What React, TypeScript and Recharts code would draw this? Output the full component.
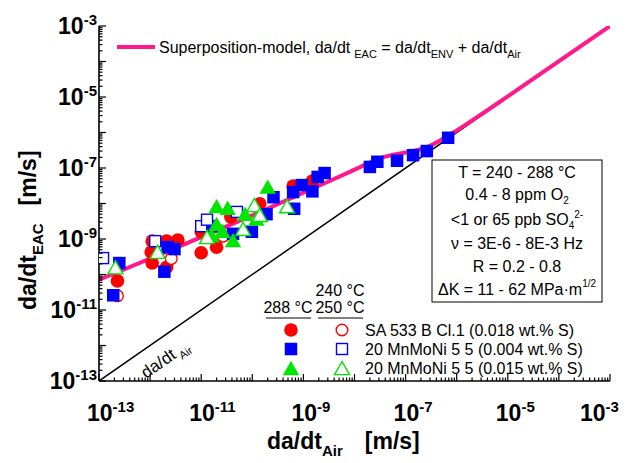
import React from 'react';
import { ComposedChart, Line, Scatter, XAxis, YAxis } from 'recharts';

const FONT = '"Liberation Sans", Arial, Helvetica, sans-serif';
const PINK = '#ff1a8c';
const RED = '#ff0000';
const BLUE = '#0000ff';
const GREEN = '#00e600';

const DOMAIN: [number, number] = [1e-13, 1e-3];
const DECADES = [-13, -12, -11, -10, -9, -8, -7, -6, -5, -4, -3];
const LABELED_DECADES = [-13, -11, -9, -7, -5, -3];
const MINOR_STEPS = [2, 3, 4, 5, 6, 7, 8, 9];

const TICKS = DECADES.flatMap((e) => {
  const base = Number(`1e${e}`);
  return e === -3 ? [base] : [base, ...MINOR_STEPS.map((m) => Number(`${m}e${e}`))];
});

// [da/dt Air, da/dt EAC] in m/s
const SA533_288 = [
  [2.3e-13, 6.6e-11], [1.1e-12, 8.7e-10], [1.05e-12, 4.3e-10], [1.1e-12, 2.1e-10],
  [2.1e-12, 8.7e-10], [3.5e-12, 9.3e-10], [2.1e-12, 1.6e-10], [1.0e-11, 1.6e-9],
  [1.0e-11, 4.1e-10], [2.0e-11, 5.9e-10], [3.8e-11, 4.2e-9], [1.4e-10, 9.8e-9],
  [6.3e-10, 3.1e-8], [1.5e-9, 4.3e-8],
];
const SA533_250 = [[2.3e-13, 2.5e-11], [2.6e-12, 2.8e-10], [2.7e-11, 1.2e-9]];

const MN004_288 = [
  [2.5e-13, 2.1e-10], [1.9e-13, 2.6e-11], [2.2e-12, 5.9e-10], [3.0e-12, 5.2e-10],
  [1.9e-12, 1.2e-10], [1.6e-11, 2.3e-9], [4.2e-11, 1.4e-9], [9.8e-11, 1.6e-9],
  [1.9e-10, 5.0e-9], [2.6e-10, 1.5e-8], [6.3e-10, 2.1e-8], [6.6e-10, 7.1e-9],
  [9.3e-10, 3.3e-8], [1.5e-9, 2.2e-8], [1.9e-9, 5.6e-8], [2.6e-9, 7.2e-8],
  [2.0e-8, 1.07e-7], [2.8e-8, 1.5e-7], [6.8e-8, 1.6e-7], [1.4e-7, 2.3e-7],
  [2.6e-7, 3.0e-7], [6.8e-7, 7.1e-7],
];
const MN004_250 = [
  [1.2e-13, 2.9e-10], [1.26e-12, 8.7e-10], [1.0e-11, 2.3e-9], [1.3e-11, 3.5e-9], [5.0e-11, 5.8e-9],
];

const MN015_288 = [
  [2.0e-11, 7.9e-9], [3.3e-11, 7.1e-9], [2.0e-10, 2.8e-8], [2.0e-11, 2.5e-9],
  [1.6e-11, 1.2e-9], [4.2e-11, 8.7e-10], [2.6e-11, 1.6e-9], [1.2e-10, 3.5e-9],
  [7.2e-11, 4.8e-9],
];
const MN015_250 = [
  [2.1e-13, 1.5e-10], [1.4e-12, 4.1e-10], [1.3e-11, 1.07e-9], [6.6e-11, 1.8e-9],
  [1.1e-10, 8.5e-9], [1.4e-10, 4.5e-9], [4.8e-10, 7.9e-9],
];

const MODEL = [
  [1e-13, 7.1e-11], [3.5e-10, 1.02e-8], [8.1e-9, 7.8e-8], [3.2e-8, 1.9e-7],
  [3.0e-7, 4.2e-7], [8.5e-7, 9.8e-7], [2.5e-6, 2.7e-6], [1e-5, 1.04e-5], [1e-3, 1e-3],
];
const AIR_LINE = [[1e-13, 1e-13], [1e-3, 1e-3]];

const pts = (arr: number[][]) => arr.map(([x, y]) => ({ x, y }));

function Marker(props: any) {
  const { cx, cy, kind, color, open } = props;
  if (cx == null || cy == null) return null;
  const fill = open ? '#fff' : color;
  const sw = open ? 1.4 : 0;
  if (kind === 'circle') {
    return <circle cx={cx} cy={cy} r={open ? 5.8 : 6.8} fill={fill} stroke={color} strokeWidth={sw} />;
  }
  if (kind === 'square') {
    const s = open ? 11 : 12.5;
    return <rect x={cx - s / 2} y={cy - s / 2} width={s} height={s} fill={fill} stroke={color} strokeWidth={sw} />;
  }
  const w = open ? 7.5 : 8.2;
  return (
    <polygon
      points={`${cx},${cy - w} ${cx - w},${cy + w * 0.75} ${cx + w},${cy + w * 0.75}`}
      fill={fill}
      stroke={color}
      strokeWidth={sw}
    />
  );
}

function AxisTick(props: any) {
  const { x, y, payload, side } = props;
  const e = Math.log10(payload.value);
  const n = Math.round(e);
  const major = Math.abs(e - n) < 1e-6;
  const len = major ? 7 : 3.5;
  let line = null;
  if (side === 'bottom') line = <line x1={x} x2={x} y1={y} y2={y - len} stroke="#000" strokeWidth={1.2} />;
  if (side === 'top') line = <line x1={x} x2={x} y1={y} y2={y + len} stroke="#000" strokeWidth={1.2} />;
  if (side === 'left') line = <line x1={x} x2={x + len} y1={y} y2={y} stroke="#000" strokeWidth={1.2} />;
  if (side === 'right') line = <line x1={x} x2={x - len} y1={y} y2={y} stroke="#000" strokeWidth={1.2} />;
  const showLabel = major && LABELED_DECADES.includes(n) && (side === 'bottom' || side === 'left');
  // keep the last bottom label inside the picture
  const bx = n === -3 ? x - 30 : x - 12;
  return (
    <g>
      {line}
      {showLabel && side === 'bottom' && (
        <text x={bx} y={y + 40} fontFamily={FONT} fontWeight="bold" fontSize={23} fill="#000">
          10<tspan dy={-9} fontSize={15}>{String(n)}</tspan>
        </text>
      )}
      {showLabel && side === 'left' && (
        <text x={x - 2} y={y + 8} textAnchor="end" fontFamily={FONT} fontWeight="bold" fontSize={23} fill="#000">
          10<tspan dy={-9} fontSize={15}>{String(n)}</tspan>
        </text>
      )}
    </g>
  );
}

const axisLine = { stroke: '#000', strokeWidth: 1.6 };

export default function App() {
  return (
    <div style={{ position: 'absolute', left: 0, top: 0, width: 631, height: 463, background: '#fff' }}>
      <ComposedChart width={631} height={463} margin={{ top: 26, right: 21, bottom: 0, left: 0 }}>
        <XAxis
          dataKey="x" type="number" scale="log" domain={DOMAIN} allowDataOverflow ticks={TICKS} interval={0}
          height={82} tickSize={0} tickMargin={0} axisLine={axisLine} tickLine={false}
          tick={(p: any) => <AxisTick {...p} side="bottom" />}
        />
        <XAxis
          xAxisId="top" orientation="top" type="number" scale="log" domain={DOMAIN} allowDataOverflow ticks={TICKS}
          interval={0} height={0} tickSize={0} tickMargin={0} axisLine={axisLine} tickLine={false}
          tick={(p: any) => <AxisTick {...p} side="top" />}
        />
        <YAxis
          dataKey="y" type="number" scale="log" domain={DOMAIN} allowDataOverflow ticks={TICKS} interval={0}
          width={99} tickSize={0} tickMargin={0} axisLine={axisLine} tickLine={false}
          tick={(p: any) => <AxisTick {...p} side="left" />}
        />
        <YAxis
          yAxisId="right" orientation="right" type="number" scale="log" domain={DOMAIN} allowDataOverflow ticks={TICKS}
          interval={0} width={0} tickSize={0} tickMargin={0} axisLine={axisLine} tickLine={false}
          tick={(p: any) => <AxisTick {...p} side="right" />}
        />

        <Line data={pts(AIR_LINE)} dataKey="y" type="linear" stroke="#000" strokeWidth={1.5} dot={false} isAnimationActive={false} />

        <Scatter data={pts(SA533_288)} isAnimationActive={false} shape={(p: any) => <Marker {...p} kind="circle" color={RED} />} />
        <Scatter data={pts(SA533_250)} isAnimationActive={false} shape={(p: any) => <Marker {...p} kind="circle" color={RED} open />} />
        <Scatter data={pts(MN004_288)} isAnimationActive={false} shape={(p: any) => <Marker {...p} kind="square" color={BLUE} />} />
        <Scatter data={pts(MN004_250)} isAnimationActive={false} shape={(p: any) => <Marker {...p} kind="square" color={BLUE} open />} />
        <Scatter data={pts(MN015_288)} isAnimationActive={false} shape={(p: any) => <Marker {...p} kind="triangle" color={GREEN} />} />
        <Scatter data={pts(MN015_250)} isAnimationActive={false} shape={(p: any) => <Marker {...p} kind="triangle" color={GREEN} open />} />

        <Line data={pts(MODEL)} dataKey="y" type="monotone" stroke={PINK} strokeWidth={4} dot={false} isAnimationActive={false} />

        {/* top legend */}
        <line x1={117} x2={155} y1={47} y2={47} stroke={PINK} strokeWidth={4} />
        <text x={159} y={53} fontFamily={FONT} fontSize={16} fill="#000">
          Superposition-model, da/dt<tspan dx={4} dy={5} fontSize={11}>EAC</tspan>
          <tspan dy={-5} fontSize={16}> = da/dt</tspan>
          <tspan dy={5} fontSize={11}>ENV</tspan>
          <tspan dy={-5} fontSize={16}> + da/dt</tspan>
          <tspan dy={5} fontSize={11}>Air</tspan>
        </text>

        {/* air line label */}
        <text transform="translate(146,379) rotate(-34.8)" fontFamily={FONT} fontSize={17} fill="#000">
          da/dt<tspan dx={3} dy={5} fontSize={11}>Air</tspan>
        </text>

        {/* conditions box */}
        <rect x={432} y={160} width={170} height={142} fill="#fff" stroke="#000" strokeWidth={1} />
        <g fontFamily={FONT} fontSize={16} fill="#000" textAnchor="middle" style={{ whiteSpace: 'pre' }}>
          <text x={517} y={178}>T = 240 - 288 °C</text>
          <text x={517} y={200}>0.4 - 8 ppm O<tspan dy={4} fontSize={10}>2</tspan></text>
          <text x={517} y={225}>{'<1 or 65 ppb SO'}<tspan dy={4} fontSize={10}>4</tspan><tspan dy={-11} fontSize={10}>2-</tspan></text>
          <text x={517} y={249}>{'ν =  3E-6 - 8E-3 Hz'}</text>
          <text x={517} y={272}>R = 0.2 - 0.8</text>
          <text x={517} y={295}>ΔK = 11 - 62 MPa·m<tspan dy={-8} fontSize={10}>1/2</tspan></text>
        </g>

        {/* marker legend */}
        <g fontFamily={FONT} fontSize={16} fill="#000">
          <text x={340} y={296} textAnchor="middle">240 °C</text>
          <text x={288} y={313} textAnchor="middle">288 °C</text>
          <text x={340} y={313} textAnchor="middle">250 °C</text>
          <line x1={266} x2={311} y1={318} y2={318} stroke="#000" strokeWidth={1} />
          <line x1={318} x2={363} y1={318} y2={318} stroke="#000" strokeWidth={1} />
          <Marker cx={291} cy={330} kind="circle" color={RED} />
          <Marker cx={342} cy={330} kind="circle" color={RED} open />
          <Marker cx={291} cy={349} kind="square" color={BLUE} />
          <Marker cx={342} cy={349} kind="square" color={BLUE} open />
          <Marker cx={291} cy={369} kind="triangle" color={GREEN} />
          <Marker cx={342} cy={369} kind="triangle" color={GREEN} open />
          <text x={365} y={336}>SA 533 B Cl.1 (0.018 wt.% S)</text>
          <text x={365} y={355}>20 MnMoNi 5 5 (0.004 wt.% S)</text>
          <text x={365} y={374}>20 MnMoNi 5 5 (0.015 wt.% S)</text>
        </g>

        {/* axis titles */}
        <text x={267} y={449} fontFamily={FONT} fontWeight="bold" fontSize={23} fill="#000">
          da/dt<tspan dy={7} fontSize={15}>Air</tspan>
          <tspan dy={-7} dx={22} fontSize={23}>[m/s]</tspan>
        </text>
        <text transform="translate(36,310) rotate(-90)" fontFamily={FONT} fontWeight="bold" fontSize={23} fill="#000">
          da/dt<tspan dy={7} fontSize={15}>EAC</tspan>
          <tspan dy={-7} dx={18} fontSize={23}>[m/s]</tspan>
        </text>
      </ComposedChart>
    </div>
  );
}
